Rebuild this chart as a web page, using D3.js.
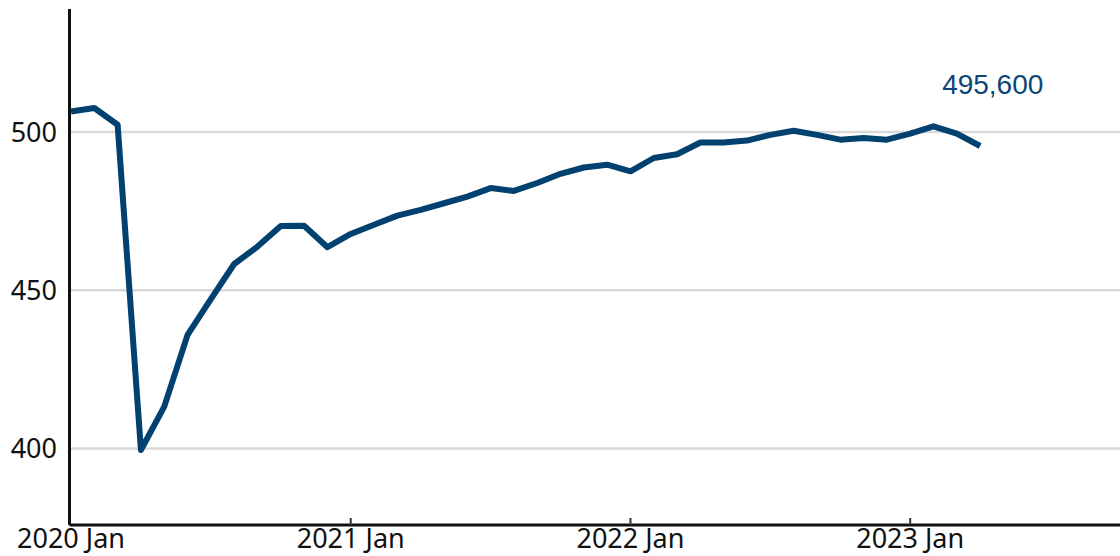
<!DOCTYPE html>
<html lang="en">
  <head>
    <meta charset="UTF-8" />
    <title>Monthly series, 2020 Jan to 2023 Apr</title>
    <script src="https://d3js.org/d3.v7.min.js"></script>
    <style>
      body { margin: 0; background: #fff; }
      .tick-label { font-family: "Noto Sans", sans-serif; font-size: 27px; fill: #111; }
      .end-label { font-family: "Liberation Sans", Arial, sans-serif; font-size: 28px; fill: #0d4577; }
    </style>
  </head>
  <body>
    <svg id="chart" width="1120" height="556"></svg>

    <script>
      // Monthly values (thousands), Jan 2020 .. Apr 2023
      const months = [
        "2020-01", "2020-02", "2020-03", "2020-04", "2020-05", "2020-06",
        "2020-07", "2020-08", "2020-09", "2020-10", "2020-11", "2020-12",
        "2021-01", "2021-02", "2021-03", "2021-04", "2021-05", "2021-06",
        "2021-07", "2021-08", "2021-09", "2021-10", "2021-11", "2021-12",
        "2022-01", "2022-02", "2022-03", "2022-04", "2022-05", "2022-06",
        "2022-07", "2022-08", "2022-09", "2022-10", "2022-11", "2022-12",
        "2023-01", "2023-02", "2023-03", "2023-04"
      ];
      const values = [
        506.5, 507.6, 502.3, 399.5, 413.2, 435.9, 447.2, 458.3, 463.8, 470.3, 470.4, 463.6,
        467.8, 470.7, 473.6, 475.4, 477.5, 479.6, 482.3, 481.4, 483.9, 486.8, 488.8, 489.7,
        487.6, 491.8, 493.0, 496.7, 496.7, 497.3, 499.1, 500.4, 499.1, 497.6, 498.1, 497.6,
        499.5, 501.8, 499.5, 495.6
      ];
      const yTicks = [400, 450, 500];
      const xTickIdx = [0, 12, 24, 36];
      const xTickLabels = ["2020 Jan", "2021 Jan", "2022 Jan", "2023 Jan"];
      const endLabel = "495,600";

      const svg = d3.select("#chart");
      const width = +svg.attr("width");

      const margin = { left: 71, right: 1120, top: 9, bottom: 525 };

      const x = d3.scaleLinear().domain([0, 45]).range([margin.left, margin.right]);
      const y = d3.scaleLinear().domain([375.8, 538.9]).range([margin.bottom, margin.top]);

      // gridlines
      svg.append("g")
        .selectAll("line")
        .data(yTicks)
        .join("line")
        .attr("x1", margin.left)
        .attr("x2", width)
        .attr("y1", d => y(d))
        .attr("y2", d => y(d))
        .attr("stroke", "#d9d9d9")
        .attr("stroke-width", 2.5);

      // y labels
      svg.append("g")
        .selectAll("text")
        .data(yTicks)
        .join("text")
        .attr("class", "tick-label")
        .attr("x", margin.left - 14)
        .attr("y", d => y(d))
        .attr("dy", "0.36em")
        .attr("text-anchor", "end")
        .text(d => d);

      // line
      const line = d3.line()
        .x((d, i) => x(i))
        .y(d => y(d));

      svg.append("path")
        .datum(values)
        .attr("d", line)
        .attr("fill", "none")
        .attr("stroke", "#00416f")
        .attr("stroke-width", 6)
        .attr("stroke-linejoin", "round");

      // axes
      const axisG = svg.append("g");
      axisG.append("line")
        .attr("x1", margin.left - 1.5).attr("x2", width)
        .attr("y1", margin.bottom).attr("y2", margin.bottom)
        .attr("stroke", "#111").attr("stroke-width", 3);
      axisG.append("line")
        .attr("x1", margin.left - 1.5).attr("x2", margin.left - 1.5)
        .attr("y1", margin.top).attr("y2", margin.bottom)
        .attr("stroke", "#111").attr("stroke-width", 3);
      axisG.selectAll(".tk")
        .data(xTickIdx.slice(1))
        .join("line")
        .attr("class", "tk")
        .attr("x1", d => x(d)).attr("x2", d => x(d))
        .attr("y1", margin.bottom - 7).attr("y2", margin.bottom)
        .attr("stroke", "#333").attr("stroke-width", 2);
      axisG.selectAll(".tick-label")
        .data(xTickIdx)
        .join("text")
        .attr("class", "tick-label")
        .attr("x", d => x(d))
        .attr("y", 548)
        .attr("text-anchor", "middle")
        .text((d, i) => xTickLabels[i]);

      // end value label
      const last = values.length - 1;
      svg.append("text")
        .attr("class", "end-label")
        .attr("x", x(last) - 38)
        .attr("y", y(values[last]) - 52)
        .attr("text-anchor", "start")
        .text(endLabel);
    </script>
  </body>
</html>
